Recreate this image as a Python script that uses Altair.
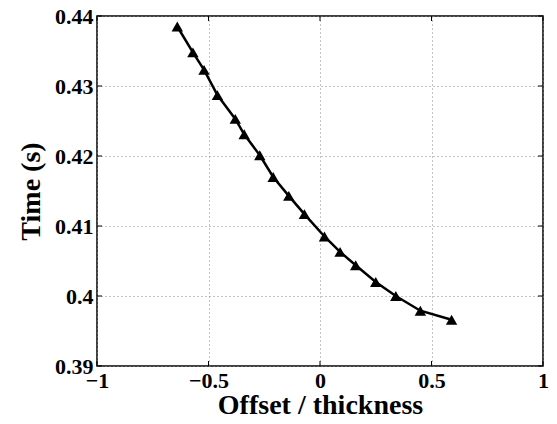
import altair as alt
import pandas as pd

offset = [-0.64, -0.57, -0.52, -0.46, -0.38, -0.34, -0.27, -0.21, -0.14, -0.07,
          0.02, 0.09, 0.16, 0.25, 0.34, 0.45, 0.59]
time_s = [0.4385, 0.4348, 0.4323, 0.4287, 0.4253, 0.4231, 0.4201, 0.4170, 0.4143, 0.4117,
          0.4085, 0.4063, 0.4044, 0.4020, 0.4000, 0.3979, 0.3966]
x_ticks = [-1, -0.5, 0, 0.5, 1]
y_ticks = [0.39, 0.40, 0.41, 0.42, 0.43, 0.44]

W, H = 446, 350
FONT = "Liberation Serif"

df = pd.DataFrame({"offset": offset, "time": time_s})
dfx = pd.DataFrame({"t": x_ticks})
dfy = pd.DataFrame({"t": y_ticks})

xscale = alt.Scale(domain=[-1, 1], nice=False, zero=False)
yscale = alt.Scale(domain=[0.39, 0.44], nice=False, zero=False)

common = dict(grid=True, gridDash=[1, 3], gridColor="#888", gridOpacity=1,
              ticks=False, domain=False, labelFlush=False,
              labelFont=FONT, labelFontSize=22, labelFontWeight="bold", labelColor="black",
              titleFont=FONT, titleFontSize=28, titleFontWeight="bold", titleColor="black")
xaxis = alt.Axis(values=x_ticks, format="~g", title="Offset / thickness",
                 labelPadding=4, titlePadding=0, **common)
yaxis = alt.Axis(values=y_ticks, format=".2~f", title="Time (s)",
                 labelPadding=4, titlePadding=9, **common)

line = alt.Chart(df).mark_line(color="black", strokeWidth=2.5).encode(
    x=alt.X("offset:Q", scale=xscale, axis=xaxis),
    y=alt.Y("time:Q", scale=yscale, axis=yaxis),
)
pts = alt.Chart(df).mark_point(shape="triangle-up", filled=True, color="black",
                               size=130, opacity=1).encode(
    x=alt.X("offset:Q", scale=xscale),
    y=alt.Y("time:Q", scale=yscale),
)

tl = 5
xt_bot = alt.Chart(dfx).mark_rule(color="black", strokeWidth=1).encode(
    x=alt.X("t:Q", scale=xscale), y=alt.value(H), y2=alt.value(H - tl))
xt_top = alt.Chart(dfx).mark_rule(color="black", strokeWidth=1).encode(
    x=alt.X("t:Q", scale=xscale), y=alt.value(0), y2=alt.value(tl))
yt_left = alt.Chart(dfy).mark_rule(color="black", strokeWidth=1).encode(
    y=alt.Y("t:Q", scale=yscale), x=alt.value(0), x2=alt.value(tl))
yt_right = alt.Chart(dfy).mark_rule(color="black", strokeWidth=1).encode(
    y=alt.Y("t:Q", scale=yscale), x=alt.value(W), x2=alt.value(W - tl))

chart = alt.layer(line, pts, xt_bot, xt_top, yt_left, yt_right).properties(
    width=W, height=H,
    autosize=alt.AutoSizeParams(type="none"),
    padding={"left": 89, "top": 8, "right": 6, "bottom": 50},
    background="white",
).configure_view(stroke="black", strokeWidth=1.5)

chart.save("out.html", embed_options={"renderer": "svg", "actions": False})
